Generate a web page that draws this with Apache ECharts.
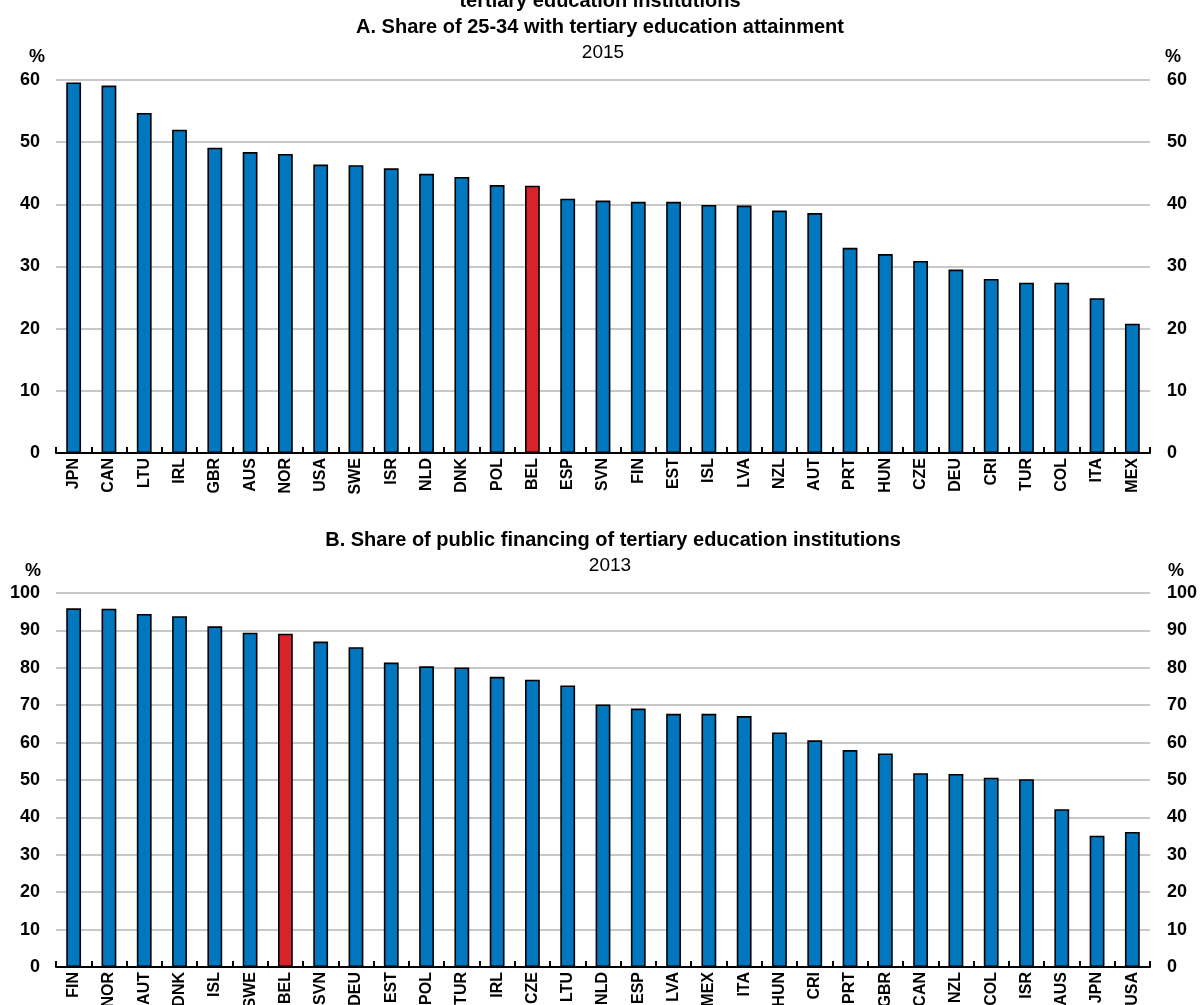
<!DOCTYPE html>
<html>
<head>
<meta charset="utf-8">
<script src="https://cdn.jsdelivr.net/npm/echarts@6/dist/echarts.min.js"></script>
<style>
html,body{margin:0;padding:0;background:#fff;}
#c{width:1201px;height:1005px;}
</style>
</head>
<body>
<div id="c"></div>
<script>
var catsA = ['JPN','CAN','LTU','IRL','GBR','AUS','NOR','USA','SWE','ISR','NLD','DNK','POL','BEL','ESP','SVN','FIN','EST','ISL','LVA','NZL','AUT','PRT','HUN','CZE','DEU','CRI','TUR','COL','ITA','MEX'];
var valsA = [59.6,59.1,54.7,52.0,49.1,48.4,48.1,46.4,46.3,45.8,44.9,44.4,43.1,43.0,40.9,40.6,40.4,40.4,39.9,39.8,39.0,38.6,33.0,32.0,30.9,29.5,28.0,27.4,27.4,24.9,20.8];
var catsB = ['FIN','NOR','AUT','DNK','ISL','SWE','BEL','SVN','DEU','EST','POL','TUR','IRL','CZE','LTU','NLD','ESP','LVA','MEX','ITA','HUN','CRI','PRT','GBR','CAN','NZL','COL','ISR','AUS','JPN','USA'];
var valsB = [95.9,95.8,94.4,93.8,91.1,89.4,89.1,87.0,85.5,81.4,80.4,80.1,77.6,76.8,75.3,70.2,69.1,67.7,67.7,67.1,62.7,60.6,58.0,57.1,51.8,51.6,50.6,50.2,42.2,35.1,36.1];
var highlight = 'BEL';

var FONT = '"Liberation Sans Narrow","Arial Narrow","Liberation Sans",Arial,sans-serif';
var BLUE = '#0077BE', RED = '#D9232A';

function barData(cats, vals){
  return vals.map(function(v,i){
    return {value: v, itemStyle: {color: cats[i] === highlight ? RED : BLUE}};
  });
}
function xAxis(idx, cats){
  return {
    type:'category', gridIndex: idx, data: cats,
    axisLine:{lineStyle:{color:'#000',width:2}},
    axisTick:{show:true, inside:true, length:6, lineStyle:{color:'#000',width:2}, alignWithLabel:false},
    axisLabel:{rotate:90, interval:0, margin:5, color:'#000', fontFamily:FONT, fontWeight:'bold', fontSize:16},
    splitLine:{show:false}
  };
}
function yAxis(idx, max, interval, pos, showGrid){
  return {
    type:'value', gridIndex: idx, min:0, max:max, interval:interval, position:pos,
    axisLine:{show:false}, axisTick:{show:false},
    axisLabel:{color:'#000', fontFamily:FONT, fontWeight:'bold', fontSize:18, margin: pos==='left'?16:17},
    splitLine:{show:showGrid, lineStyle:{color:'#c8c8c8', width:2}}
  };
}
function txt(x, y, text, opts){
  var s = {text:text, fill:'#000', font: (opts.weight||'normal') + ' ' + (opts.size||17) + 'px ' + FONT, textAlign: opts.align||'center', textVerticalAlign:'middle'};
  return {type:'text', x:x, y:y, style:s, silent:true};
}

var chart = echarts.init(document.getElementById('c'), null, {renderer:'canvas'});
chart.setOption({
  animation:false,
  backgroundColor:'#fff',
  grid:[
    {left:56, right:51, top:80, height:373, containLabel:false, outerBoundsMode:'none'},
    {left:56, right:51, top:593, height:374, containLabel:false, outerBoundsMode:'none'}
  ],
  xAxis:[xAxis(0,catsA), xAxis(1,catsB)],
  yAxis:[
    yAxis(0,60,10,'left',true), yAxis(0,60,10,'right',false),
    yAxis(1,100,10,'left',true), yAxis(1,100,10,'right',false)
  ],
  series:[
    {type:'bar', xAxisIndex:0, yAxisIndex:0, data:barData(catsA,valsA), barWidth:'42%',
     itemStyle:{borderColor:'#000', borderWidth:1.6}},
    {type:'bar', xAxisIndex:1, yAxisIndex:2, data:barData(catsB,valsB), barWidth:'42%',
     itemStyle:{borderColor:'#000', borderWidth:1.6}}
  ],
  graphic:[
    txt(600, 1, 'tertiary education institutions', {weight:'bold', size:20}),
    txt(600, 27, 'A. Share of 25-34 with tertiary education attainment', {weight:'bold', size:20}),
    txt(603, 53, '2015', {size:19}),
    txt(37, 57, '%', {weight:'bold', size:18}),
    txt(1173, 57, '%', {weight:'bold', size:18}),
    txt(613, 540, 'B. Share of public financing of tertiary education institutions', {weight:'bold', size:20}),
    txt(610, 566, '2013', {size:19}),
    txt(33, 571, '%', {weight:'bold', size:18}),
    txt(1176, 571, '%', {weight:'bold', size:18})
  ]
});
</script>
</body>
</html>
